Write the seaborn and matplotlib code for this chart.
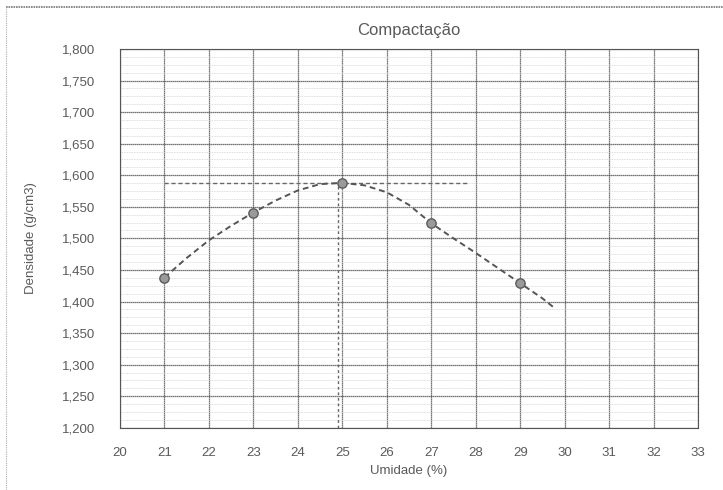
import numpy as np
import pandas as pd
import matplotlib.pyplot as plt
from matplotlib.lines import Line2D
from matplotlib.ticker import FuncFormatter, MultipleLocator
import seaborn as sns

# ensaio de compactacao
umidade = [21, 23, 25, 27, 29]
densidade = [1.438, 1.541, 1.588, 1.524, 1.429]

# curva suavizada
tendencia_x = [21, 21.5, 22, 22.5, 23, 23.5, 24, 24.5, 25, 25.5, 26,
               26.5, 27, 27.5, 28, 28.5, 29, 29.5, 29.8]
tendencia_y = [1.438, 1.469, 1.497, 1.520, 1.541, 1.560, 1.576, 1.586,
               1.588, 1.584, 1.573, 1.553, 1.524, 1.500, 1.477, 1.453,
               1.429, 1.405, 1.388]

# umidade otima / densidade maxima (linhas de chamada)
umidade_otima = 24.9
densidade_max = 1.588
fim_chamada = 27.8

x_ticks = list(range(20, 34))
y_ticks = [1.200, 1.250, 1.300, 1.350, 1.400, 1.450, 1.500,
           1.550, 1.600, 1.650, 1.700, 1.750, 1.800]

df = pd.DataFrame({"Umidade": umidade, "Densidade": densidade})
df_curva = pd.DataFrame({"Umidade": tendencia_x, "Densidade": tendencia_y})

sns.set_style("white")
plt.rcParams['font.family'] = ['Liberation Sans', 'DejaVu Sans']

fig = plt.figure(figsize=(7.23, 4.90), dpi=100)
ax = fig.add_axes([0.166, 0.127, 0.7995, 0.773])

txt = "#5a5a5a"

sns.lineplot(data=df_curva, x="Umidade", y="Densidade", ax=ax, sort=False,
             color="#555555", lw=1.4, ls=(0, (3, 2)), zorder=4)

sns.scatterplot(data=df, x="Umidade", y="Densidade", ax=ax, s=45,
                color="#9a9a9a", edgecolor="#5c5c5c", linewidth=1.0, zorder=5)

# chamadas da umidade otima
ax.plot([umidade[0], fim_chamada], [densidade_max, densidade_max],
        color="#666666", lw=1.0, ls=(0, (3, 2)), zorder=3)
ax.plot([umidade_otima, umidade_otima], [y_ticks[0], densidade_max],
        color="#666666", lw=1.0, ls=(0, (2, 2)), zorder=3)

ax.set_xlim(x_ticks[0], x_ticks[-1])
ax.set_ylim(y_ticks[0], y_ticks[-1])
ax.set_xticks(x_ticks)
ax.set_yticks(y_ticks)
ax.yaxis.set_major_formatter(FuncFormatter(lambda v, p: f"{v:.3f}".replace(".", ",")))
ax.yaxis.set_minor_locator(MultipleLocator(0.0125))

ax.grid(which="major", color="#4a4a4a", lw=0.9, ls=(0, (1, 0.6)))
ax.grid(which="minor", axis="y", color="#d2d2d2", lw=0.6, ls=(0, (1, 1)))
ax.set_axisbelow(True)

ax.tick_params(axis="both", which="both", length=0, colors=txt, labelsize=9.5)
ax.tick_params(axis="x", pad=14)
ax.tick_params(axis="y", pad=18)

for s in ax.spines.values():
    s.set_color("#555555")
    s.set_linewidth(0.8)
    s.set_linestyle((0, (1, 0.6)))

ax.set_title("Compactação", color=txt, fontsize=12, pad=10)
ax.set_xlabel("Umidade (%)", color=txt, fontsize=9.5, labelpad=4)
ax.set_ylabel("Densidade (g/cm3)", color=txt, fontsize=9.5, labelpad=18)

# moldura do grafico
fig.add_artist(Line2D([0.008, 1.0], [0.986, 0.986], transform=fig.transFigure,
                      color="#777777", lw=1.2, ls=(0, (1, 0.5))))
fig.add_artist(Line2D([0.008, 0.008], [0.0, 0.986], transform=fig.transFigure,
                      color="#aaaaaa", lw=0.8, ls=(0, (1, 1))))

fig.savefig("out.png", dpi=100)
